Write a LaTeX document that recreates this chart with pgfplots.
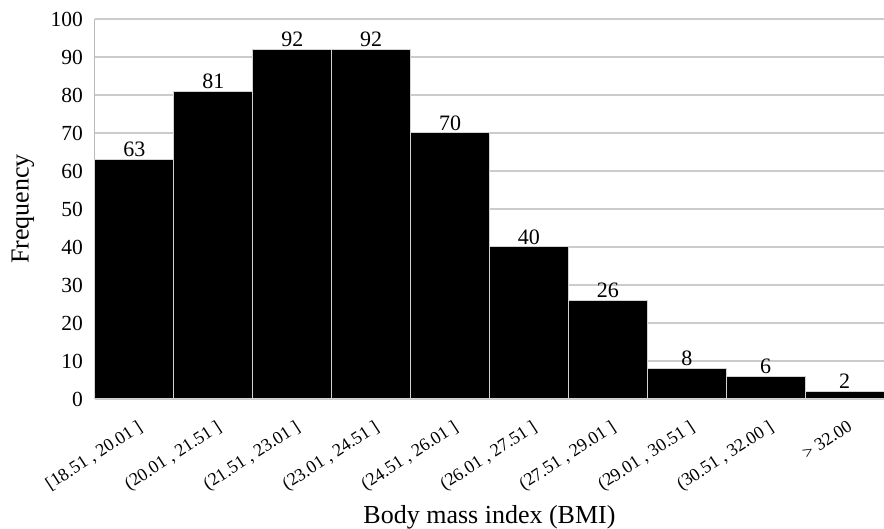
\documentclass[border=0pt]{standalone}
\usepackage{fontspec}
\setmainfont{Liberation Serif}
\usepackage{pgfplots}
\pgfplotsset{compat=1.18}
\begin{document}
\begin{tikzpicture}
\path[use as bounding box] (-95pt,-130pt) rectangle (789pt,399pt);
\begin{axis}[
  at={(0,0)}, anchor=south west,
  scale only axis,
  width=789pt, height=380pt,
  xmin=-0.5, xmax=9.5,
  ymin=0, ymax=100,
  ytick={0,10,...,100},
  xtick={0,...,9},
  xticklabels={{[18.51 , 20.01 ]},{(20.01 , 21.51 ]},{(21.51 , 23.01 ]},{(23.01 , 24.51 ]},{(24.51 , 26.01 ]},{(26.01 , 27.51 ]},{(27.51 , 29.01 ]},{(29.01 , 30.51 ]},{(30.51 , 32.00 ]},{> 32.00}},
  xticklabel style={rotate=33, anchor=north east, font=\fontsize{18}{20}\selectfont, inner sep=0pt, xshift=-9pt, yshift=-18pt},
  yticklabel style={font=\fontsize{21.5}{24}\selectfont, inner sep=0pt, xshift=-12pt},
  /pgf/number format/assume math mode=true,
  major tick length=0pt,
  axis x line*=bottom, axis y line*=left,
  axis line style={draw=gray!55, line width=1pt, -},
  ymajorgrids,
  grid style={draw=gray!40, line width=1.4pt},
  ybar, bar width=1, bar shift=0pt,
  nodes near coords,
  every node near coord/.append style={font=\fontsize{22}{25}\selectfont, text=black, inner sep=2pt},
  xlabel={Body mass index (BMI)},
  ylabel={Frequency},
  xlabel style={at={(axis description cs:0.5,-0.31)}, anchor=center, font=\fontsize{26}{30}\selectfont},
  ylabel style={at={(axis description cs:-0.0913,0.5)}, anchor=center, font=\fontsize{26}{30}\selectfont},
  clip=false,
]
\addplot[fill=black, draw=gray!35, line width=1pt] coordinates {
(0,63) (1,81) (2,92) (3,92) (4,70) (5,40) (6,26) (7,8) (8,6) (9,2)};
\end{axis}
\end{tikzpicture}
\end{document}
